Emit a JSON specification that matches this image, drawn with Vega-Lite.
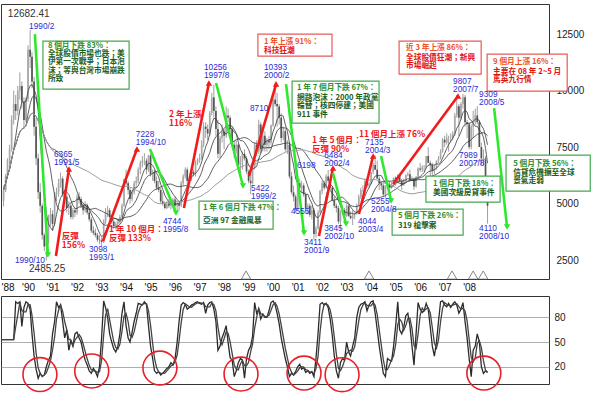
{
"$schema": "https://vega.github.io/schema/vega-lite/v6.json",
"padding": {"left": 0, "top": 3, "right": 0, "bottom": 0},
"spacing": 0,
"background": "white",
"config": {"view": {"stroke": "#333", "strokeWidth": 1}, "axis": {"labelFont": "Liberation Sans", "labelOverlap": false}, "axisX": {"labelOverlap": false, "labelSeparation": 0}},
"datasets": {
"px": [
{"d":"1989-01","o":5119,"h":5800,"l":4870,"c":5600},{"d":"1989-02","o":5600,"h":6300,"l":5500,"c":6200},{"d":"1989-03","o":6200,"h":7000,"l":6100,"c":6900},{"d":"1989-04","o":6900,"h":7600,"l":6700,"c":7400},{"d":"1989-05","o":7400,"h":8900,"l":7300,"c":8700},{"d":"1989-06","o":8700,"h":10000,"l":8500,"c":9400},{"d":"1989-07","o":9400,"h":9800,"l":8700,"c":9100},{"d":"1989-08","o":9100,"h":10200,"l":8900,"c":10000},{"d":"1989-09","o":10000,"h":10800,"l":9600,"c":10200},{"d":"1989-10","o":10200,"h":10400,"l":9200,"c":9500},{"d":"1989-11","o":9500,"h":9700,"l":8300,"c":8700},{"d":"1989-12","o":8700,"h":9700,"l":8600,"c":9624},
{"d":"1990-01","o":9624,"h":12000,"l":9500,"c":11800},{"d":"1990-02","o":11800,"h":12682,"l":11000,"c":11500},{"d":"1990-03","o":11500,"h":11700,"l":10100,"c":10400},{"d":"1990-04","o":10400,"h":10600,"l":8000,"c":8400},{"d":"1990-05","o":8400,"h":8800,"l":6700,"c":7000},{"d":"1990-06","o":7000,"h":7200,"l":5200,"c":5500},{"d":"1990-07","o":5500,"h":5900,"l":4600,"c":4900},{"d":"1990-08","o":4900,"h":5000,"l":3400,"c":3600},{"d":"1990-09","o":3600,"h":3700,"l":2900,"c":3100},{"d":"1990-10","o":3100,"h":3500,"l":2485,"c":3300},{"d":"1990-11","o":3300,"h":4500,"l":3200,"c":4200},{"d":"1990-12","o":4200,"h":4800,"l":4000,"c":4530},
{"d":"1991-01","o":4530,"h":4700,"l":3800,"c":4100},{"d":"1991-02","o":4100,"h":5500,"l":4000,"c":5400},{"d":"1991-03","o":5400,"h":5700,"l":5100,"c":5500},{"d":"1991-04","o":5500,"h":6100,"l":5300,"c":5900},{"d":"1991-05","o":5900,"h":6365,"l":5700,"c":6100},{"d":"1991-06","o":6100,"h":6200,"l":5300,"c":5400},{"d":"1991-07","o":5400,"h":5600,"l":5000,"c":5300},{"d":"1991-08","o":5300,"h":5400,"l":4600,"c":4800},{"d":"1991-09","o":4800,"h":5100,"l":4500,"c":4900},{"d":"1991-10","o":4900,"h":5000,"l":4300,"c":4400},{"d":"1991-11","o":4400,"h":4800,"l":4300,"c":4700},{"d":"1991-12","o":4700,"h":4800,"l":4400,"c":4600},
{"d":"1992-01","o":4600,"h":5400,"l":4500,"c":5300},{"d":"1992-02","o":5300,"h":5500,"l":5000,"c":5200},{"d":"1992-03","o":5200,"h":5300,"l":4800,"c":4900},{"d":"1992-04","o":4900,"h":5000,"l":4500,"c":4700},{"d":"1992-05","o":4700,"h":5100,"l":4600,"c":4900},{"d":"1992-06","o":4900,"h":5000,"l":4500,"c":4600},{"d":"1992-07","o":4600,"h":4700,"l":4200,"c":4300},{"d":"1992-08","o":4300,"h":4400,"l":3700,"c":3800},{"d":"1992-09","o":3800,"h":4000,"l":3600,"c":3700},{"d":"1992-10","o":3700,"h":3900,"l":3500,"c":3600},{"d":"1992-11","o":3600,"h":3700,"l":3300,"c":3400},{"d":"1992-12","o":3400,"h":3600,"l":3200,"c":3377},
{"d":"1993-01","o":3377,"h":3500,"l":3098,"c":3300},{"d":"1993-02","o":3300,"h":4300,"l":3250,"c":4200},{"d":"1993-03","o":4200,"h":4800,"l":4100,"c":4600},{"d":"1993-04","o":4600,"h":4900,"l":4400,"c":4700},{"d":"1993-05","o":4700,"h":4800,"l":4300,"c":4400},{"d":"1993-06","o":4400,"h":4500,"l":4100,"c":4200},{"d":"1993-07","o":4200,"h":4300,"l":3900,"c":4000},{"d":"1993-08","o":4000,"h":4200,"l":3850,"c":4100},{"d":"1993-09","o":4100,"h":4300,"l":3950,"c":4200},{"d":"1993-10","o":4200,"h":4500,"l":4100,"c":4400},{"d":"1993-11","o":4400,"h":5000,"l":4350,"c":4900},{"d":"1993-12","o":4900,"h":6100,"l":4850,"c":6070},
{"d":"1994-01","o":6070,"h":6500,"l":5800,"c":5900},{"d":"1994-02","o":5900,"h":6000,"l":5400,"c":5600},{"d":"1994-03","o":5600,"h":5700,"l":5000,"c":5200},{"d":"1994-04","o":5200,"h":5600,"l":5100,"c":5500},{"d":"1994-05","o":5500,"h":6000,"l":5400,"c":5900},{"d":"1994-06","o":5900,"h":6200,"l":5700,"c":6000},{"d":"1994-07","o":6000,"h":6600,"l":5900,"c":6500},{"d":"1994-08","o":6500,"h":6900,"l":6300,"c":6800},{"d":"1994-09","o":6800,"h":7100,"l":6600,"c":6900},{"d":"1994-10","o":6900,"h":7228,"l":6700,"c":6900},{"d":"1994-11","o":6900,"h":7000,"l":6300,"c":6500},{"d":"1994-12","o":6500,"h":7150,"l":6400,"c":7124},
{"d":"1995-01","o":7124,"h":7200,"l":6200,"c":6300},{"d":"1995-02","o":6300,"h":6500,"l":6000,"c":6400},{"d":"1995-03","o":6400,"h":6500,"l":5900,"c":6000},{"d":"1995-04","o":6000,"h":6200,"l":5600,"c":5700},{"d":"1995-05","o":5700,"h":6000,"l":5500,"c":5600},{"d":"1995-06","o":5600,"h":5700,"l":5000,"c":5100},{"d":"1995-07","o":5100,"h":5500,"l":4900,"c":5000},{"d":"1995-08","o":5000,"h":5100,"l":4744,"c":4800},{"d":"1995-09","o":4800,"h":5100,"l":4750,"c":5000},{"d":"1995-10","o":5000,"h":5200,"l":4800,"c":4900},{"d":"1995-11","o":4900,"h":5100,"l":4750,"c":5000},{"d":"1995-12","o":5000,"h":5250,"l":4900,"c":5174},
{"d":"1996-01","o":5174,"h":5300,"l":4700,"c":4900},{"d":"1996-02","o":4900,"h":5100,"l":4670,"c":5000},{"d":"1996-03","o":5000,"h":5100,"l":4700,"c":4900},{"d":"1996-04","o":4900,"h":6000,"l":4850,"c":5900},{"d":"1996-05","o":5900,"h":6300,"l":5800,"c":6200},{"d":"1996-06","o":6200,"h":6600,"l":6100,"c":6500},{"d":"1996-07","o":6500,"h":6600,"l":5800,"c":6000},{"d":"1996-08","o":6000,"h":6200,"l":5900,"c":6100},{"d":"1996-09","o":6100,"h":6500,"l":6000,"c":6400},{"d":"1996-10","o":6400,"h":6500,"l":6200,"c":6300},{"d":"1996-11","o":6300,"h":6900,"l":6200,"c":6800},{"d":"1996-12","o":6800,"h":7000,"l":6700,"c":6933},
{"d":"1997-01","o":6933,"h":7200,"l":6800,"c":7000},{"d":"1997-02","o":7000,"h":7800,"l":6950,"c":7600},{"d":"1997-03","o":7600,"h":8600,"l":7500,"c":8400},{"d":"1997-04","o":8400,"h":8600,"l":7900,"c":8300},{"d":"1997-05","o":8300,"h":8500,"l":7800,"c":8100},{"d":"1997-06","o":8100,"h":9100,"l":8000,"c":9000},{"d":"1997-07","o":9000,"h":9900,"l":8900,"c":9700},{"d":"1997-08","o":9700,"h":10256,"l":8800,"c":9100},{"d":"1997-09","o":9100,"h":9300,"l":8000,"c":8300},{"d":"1997-10","o":8300,"h":8700,"l":7000,"c":7200},{"d":"1997-11","o":7200,"h":8000,"l":7000,"c":7900},{"d":"1997-12","o":7900,"h":8500,"l":7700,"c":8187},
{"d":"1998-01","o":8187,"h":8300,"l":7400,"c":8000},{"d":"1998-02","o":8000,"h":9300,"l":7900,"c":8900},{"d":"1998-03","o":8900,"h":9200,"l":8600,"c":8800},{"d":"1998-04","o":8800,"h":8900,"l":8000,"c":8300},{"d":"1998-05","o":8300,"h":8400,"l":7500,"c":7600},{"d":"1998-06","o":7600,"h":7800,"l":7000,"c":7300},{"d":"1998-07","o":7300,"h":7800,"l":7200,"c":7600},{"d":"1998-08","o":7600,"h":7650,"l":6600,"c":6700},{"d":"1998-09","o":6700,"h":7100,"l":6200,"c":6900},{"d":"1998-10","o":6900,"h":7300,"l":6500,"c":7200},{"d":"1998-11","o":7200,"h":7400,"l":6900,"c":7000},{"d":"1998-12","o":7000,"h":7100,"l":6300,"c":6418},
{"d":"1999-01","o":6418,"h":6500,"l":5900,"c":6000},{"d":"1999-02","o":6000,"h":6300,"l":5422,"c":5900},{"d":"1999-03","o":5900,"h":6700,"l":5850,"c":6600},{"d":"1999-04","o":6600,"h":7700,"l":6500,"c":7600},{"d":"1999-05","o":7600,"h":7800,"l":7100,"c":7300},{"d":"1999-06","o":7300,"h":8710,"l":7200,"c":8500},{"d":"1999-07","o":8500,"h":8600,"l":7200,"c":7400},{"d":"1999-08","o":7400,"h":8300,"l":7300,"c":8000},{"d":"1999-09","o":8000,"h":8200,"l":7300,"c":7600},{"d":"1999-10","o":7600,"h":7900,"l":7300,"c":7800},{"d":"1999-11","o":7800,"h":8000,"l":7400,"c":7700},{"d":"1999-12","o":7700,"h":8500,"l":7600,"c":8448},
{"d":"2000-01","o":8448,"h":9800,"l":8400,"c":9600},{"d":"2000-02","o":9600,"h":10393,"l":9300,"c":9400},{"d":"2000-03","o":9400,"h":9900,"l":8400,"c":9300},{"d":"2000-04","o":9300,"h":9400,"l":8500,"c":8800},{"d":"2000-05","o":8800,"h":9000,"l":7700,"c":7900},{"d":"2000-06","o":7900,"h":8400,"l":7800,"c":8200},{"d":"2000-07","o":8200,"h":8300,"l":7300,"c":7400},{"d":"2000-08","o":7400,"h":7800,"l":7200,"c":7600},{"d":"2000-09","o":7600,"h":7700,"l":6100,"c":6200},{"d":"2000-10","o":6200,"h":6400,"l":5400,"c":5500},{"d":"2000-11","o":5500,"h":5800,"l":5100,"c":5300},{"d":"2000-12","o":5300,"h":5400,"l":4600,"c":4740},
{"d":"2001-01","o":4740,"h":6198,"l":4700,"c":5900},{"d":"2001-02","o":5900,"h":6100,"l":5500,"c":5700},{"d":"2001-03","o":5700,"h":6000,"l":5500,"c":5800},{"d":"2001-04","o":5800,"h":5900,"l":5300,"c":5400},{"d":"2001-05","o":5400,"h":5500,"l":4600,"c":4800},{"d":"2001-06","o":4800,"h":5000,"l":4555,"c":4900},{"d":"2001-07","o":4900,"h":5000,"l":4400,"c":4500},{"d":"2001-08","o":4500,"h":4900,"l":4300,"c":4700},{"d":"2001-09","o":4700,"h":4800,"l":3411,"c":3650},{"d":"2001-10","o":3650,"h":4000,"l":3500,"c":3900},{"d":"2001-11","o":3900,"h":4700,"l":3850,"c":4600},{"d":"2001-12","o":4600,"h":5600,"l":4550,"c":5551},
{"d":"2002-01","o":5551,"h":6000,"l":5400,"c":5900},{"d":"2002-02","o":5900,"h":6000,"l":5600,"c":5700},{"d":"2002-03","o":5700,"h":6300,"l":5650,"c":6200},{"d":"2002-04","o":6200,"h":6484,"l":5900,"c":6000},{"d":"2002-05","o":6000,"h":6100,"l":5600,"c":5700},{"d":"2002-06","o":5700,"h":5750,"l":5100,"c":5150},{"d":"2002-07","o":5150,"h":5300,"l":4800,"c":4900},{"d":"2002-08","o":4900,"h":5000,"l":4600,"c":4800},{"d":"2002-09","o":4800,"h":4900,"l":4100,"c":4200},{"d":"2002-10","o":4200,"h":4700,"l":3845,"c":4600},{"d":"2002-11","o":4600,"h":4900,"l":4500,"c":4700},{"d":"2002-12","o":4700,"h":4800,"l":4400,"c":4452},
{"d":"2003-01","o":4452,"h":5000,"l":4400,"c":4900},{"d":"2003-02","o":4900,"h":4950,"l":4400,"c":4450},{"d":"2003-03","o":4450,"h":4650,"l":4300,"c":4350},{"d":"2003-04","o":4350,"h":4700,"l":4044,"c":4500},{"d":"2003-05","o":4500,"h":4600,"l":4300,"c":4550},{"d":"2003-06","o":4550,"h":5000,"l":4500,"c":4900},{"d":"2003-07","o":4900,"h":5400,"l":4850,"c":5300},{"d":"2003-08","o":5300,"h":5700,"l":5200,"c":5600},{"d":"2003-09","o":5600,"h":5800,"l":5500,"c":5600},{"d":"2003-10","o":5600,"h":6100,"l":5550,"c":6000},{"d":"2003-11","o":6000,"h":6100,"l":5700,"c":5800},{"d":"2003-12","o":5800,"h":5950,"l":5700,"c":5890},
{"d":"2004-01","o":5890,"h":6400,"l":5850,"c":6400},{"d":"2004-02","o":6400,"h":6800,"l":6300,"c":6700},{"d":"2004-03","o":6700,"h":7135,"l":6500,"c":6500},{"d":"2004-04","o":6500,"h":6900,"l":6100,"c":6100},{"d":"2004-05","o":6100,"h":6200,"l":5600,"c":5900},{"d":"2004-06","o":5900,"h":6000,"l":5600,"c":5800},{"d":"2004-07","o":5800,"h":5900,"l":5300,"c":5400},{"d":"2004-08","o":5400,"h":5800,"l":5255,"c":5800},{"d":"2004-09","o":5800,"h":6000,"l":5700,"c":5850},{"d":"2004-10","o":5850,"h":6000,"l":5700,"c":5700},{"d":"2004-11","o":5700,"h":5950,"l":5650,"c":5850},{"d":"2004-12","o":5850,"h":6150,"l":5800,"c":6139},
{"d":"2005-01","o":6139,"h":6200,"l":5800,"c":5950},{"d":"2005-02","o":5950,"h":6300,"l":5900,"c":6250},{"d":"2005-03","o":6250,"h":6300,"l":5950,"c":6000},{"d":"2005-04","o":6000,"h":6100,"l":5600,"c":5800},{"d":"2005-05","o":5800,"h":6100,"l":5800,"c":6000},{"d":"2005-06","o":6000,"h":6300,"l":5950,"c":6250},{"d":"2005-07","o":6250,"h":6400,"l":6200,"c":6300},{"d":"2005-08","o":6300,"h":6500,"l":6000,"c":6050},{"d":"2005-09","o":6050,"h":6200,"l":6000,"c":6100},{"d":"2005-10","o":6100,"h":6150,"l":5600,"c":5750},{"d":"2005-11","o":5750,"h":6200,"l":5700,"c":6200},{"d":"2005-12","o":6200,"h":6600,"l":6150,"c":6548},
{"d":"2006-01","o":6548,"h":6800,"l":6400,"c":6500},{"d":"2006-02","o":6500,"h":6700,"l":6400,"c":6600},{"d":"2006-03","o":6600,"h":6700,"l":6400,"c":6600},{"d":"2006-04","o":6600,"h":7100,"l":6550,"c":7100},{"d":"2006-05","o":7100,"h":7500,"l":6800,"c":6800},{"d":"2006-06","o":6800,"h":6900,"l":6200,"c":6700},{"d":"2006-07","o":6700,"h":6800,"l":6250,"c":6450},{"d":"2006-08","o":6450,"h":6700,"l":6300,"c":6600},{"d":"2006-09","o":6600,"h":6900,"l":6500,"c":6900},{"d":"2006-10","o":6900,"h":7100,"l":6800,"c":7000},{"d":"2006-11","o":7000,"h":7400,"l":6950,"c":7300},{"d":"2006-12","o":7300,"h":7900,"l":7250,"c":7823},
{"d":"2007-01","o":7823,"h":8000,"l":7500,"c":7700},{"d":"2007-02","o":7700,"h":8100,"l":7600,"c":7900},{"d":"2007-03","o":7900,"h":8000,"l":7300,"c":7900},{"d":"2007-04","o":7900,"h":8100,"l":7700,"c":7900},{"d":"2007-05","o":7900,"h":8200,"l":7800,"c":8100},{"d":"2007-06","o":8100,"h":9000,"l":8000,"c":8900},{"d":"2007-07","o":8900,"h":9807,"l":8800,"c":9300},{"d":"2007-08","o":9300,"h":9400,"l":7989,"c":8800},{"d":"2007-09","o":8800,"h":9500,"l":8700,"c":9400},{"d":"2007-10","o":9400,"h":9850,"l":9200,"c":9700},{"d":"2007-11","o":9700,"h":9800,"l":8400,"c":8600},{"d":"2007-12","o":8600,"h":8700,"l":7900,"c":8506},
{"d":"2008-01","o":8506,"h":8600,"l":7400,"c":7500},{"d":"2008-02","o":7500,"h":8500,"l":7400,"c":8400},{"d":"2008-03","o":8400,"h":9100,"l":7900,"c":8600},{"d":"2008-04","o":8600,"h":9200,"l":8500,"c":8900},{"d":"2008-05","o":8900,"h":9309,"l":8500,"c":8600},{"d":"2008-06","o":8600,"h":8700,"l":7500,"c":7500},{"d":"2008-07","o":7500,"h":7700,"l":6700,"c":7000},{"d":"2008-08","o":7000,"h":7400,"l":6700,"c":7000},{"d":"2008-09","o":7000,"h":7100,"l":5500,"c":5700},{"d":"2008-10","o":5700,"h":5800,"l":4110,"c":4900}
],
"osc": [
{"d":"1988-11","k":53},{"d":"1988-12","k":53},
{"d":"1989-01","k":53},{"d":"1989-02","k":53},{"d":"1989-03","k":53},{"d":"1989-04","k":53},{"d":"1989-05","k":53},{"d":"1989-06","k":53},{"d":"1989-07","k":99},{"d":"1989-08","k":97},{"d":"1989-09","k":99},{"d":"1989-10","k":69},{"d":"1989-11","k":92},{"d":"1989-12","k":99},
{"d":"1990-01","k":97},{"d":"1990-02","k":90},{"d":"1990-03","k":60},{"d":"1990-04","k":33},{"d":"1990-05","k":17},{"d":"1990-06","k":6},{"d":"1990-07","k":12},{"d":"1990-08","k":8},{"d":"1990-09","k":10},{"d":"1990-10","k":20},{"d":"1990-11","k":28},{"d":"1990-12","k":33},
{"d":"1991-01","k":60},{"d":"1991-02","k":75},{"d":"1991-03","k":99},{"d":"1991-04","k":92},{"d":"1991-05","k":95},{"d":"1991-06","k":75},{"d":"1991-07","k":55},{"d":"1991-08","k":65},{"d":"1991-09","k":40},{"d":"1991-10","k":52},{"d":"1991-11","k":45},{"d":"1991-12","k":60},
{"d":"1992-01","k":62},{"d":"1992-02","k":55},{"d":"1992-03","k":50},{"d":"1992-04","k":38},{"d":"1992-05","k":28},{"d":"1992-06","k":22},{"d":"1992-07","k":15},{"d":"1992-08","k":12},{"d":"1992-09","k":18},{"d":"1992-10","k":14},{"d":"1992-11","k":8},{"d":"1992-12","k":20},
{"d":"1993-01","k":55},{"d":"1993-02","k":100},{"d":"1993-03","k":92},{"d":"1993-04","k":80},{"d":"1993-05","k":60},{"d":"1993-06","k":50},{"d":"1993-07","k":42},{"d":"1993-08","k":38},{"d":"1993-09","k":45},{"d":"1993-10","k":60},{"d":"1993-11","k":85},{"d":"1993-12","k":99},
{"d":"1994-01","k":70},{"d":"1994-02","k":55},{"d":"1994-03","k":50},{"d":"1994-04","k":62},{"d":"1994-05","k":75},{"d":"1994-06","k":85},{"d":"1994-07","k":97},{"d":"1994-08","k":96},{"d":"1994-09","k":95},{"d":"1994-10","k":99},{"d":"1994-11","k":96},{"d":"1994-12","k":70},
{"d":"1995-01","k":45},{"d":"1995-02","k":30},{"d":"1995-03","k":15},{"d":"1995-04","k":12},{"d":"1995-05","k":14},{"d":"1995-06","k":10},{"d":"1995-07","k":12},{"d":"1995-08","k":15},{"d":"1995-09","k":18},{"d":"1995-10","k":20},{"d":"1995-11","k":25},{"d":"1995-12","k":22},
{"d":"1996-01","k":30},{"d":"1996-02","k":50},{"d":"1996-03","k":75},{"d":"1996-04","k":95},{"d":"1996-05","k":98},{"d":"1996-06","k":96},{"d":"1996-07","k":90},{"d":"1996-08","k":92},{"d":"1996-09","k":95},{"d":"1996-10","k":96},{"d":"1996-11","k":98},{"d":"1996-12","k":99},
{"d":"1997-01","k":97},{"d":"1997-02","k":96},{"d":"1997-03","k":98},{"d":"1997-04","k":85},{"d":"1997-05","k":95},{"d":"1997-06","k":98},{"d":"1997-07","k":99},{"d":"1997-08","k":90},{"d":"1997-09","k":75},{"d":"1997-10","k":40},{"d":"1997-11","k":45},{"d":"1997-12","k":55},
{"d":"1998-01","k":62},{"d":"1998-02","k":70},{"d":"1998-03","k":50},{"d":"1998-04","k":31},{"d":"1998-05","k":28},{"d":"1998-06","k":8},{"d":"1998-07","k":15},{"d":"1998-08","k":25},{"d":"1998-09","k":30},{"d":"1998-10","k":28},{"d":"1998-11","k":6},{"d":"1998-12","k":30},
{"d":"1999-01","k":40},{"d":"1999-02","k":45},{"d":"1999-03","k":57},{"d":"1999-04","k":98},{"d":"1999-05","k":85},{"d":"1999-06","k":90},{"d":"1999-07","k":78},{"d":"1999-08","k":84},{"d":"1999-09","k":80},{"d":"1999-10","k":80},{"d":"1999-11","k":88},{"d":"1999-12","k":98},
{"d":"2000-01","k":100},{"d":"2000-02","k":95},{"d":"2000-03","k":85},{"d":"2000-04","k":72},{"d":"2000-05","k":55},{"d":"2000-06","k":42},{"d":"2000-07","k":30},{"d":"2000-08","k":20},{"d":"2000-09","k":8},{"d":"2000-10","k":12},{"d":"2000-11","k":10},{"d":"2000-12","k":14},
{"d":"2001-01","k":20},{"d":"2001-02","k":23},{"d":"2001-03","k":17},{"d":"2001-04","k":19},{"d":"2001-05","k":13},{"d":"2001-06","k":15},{"d":"2001-07","k":12},{"d":"2001-08","k":14},{"d":"2001-09","k":8},{"d":"2001-10","k":30},{"d":"2001-11","k":60},{"d":"2001-12","k":96},
{"d":"2002-01","k":98},{"d":"2002-02","k":95},{"d":"2002-03","k":97},{"d":"2002-04","k":92},{"d":"2002-05","k":78},{"d":"2002-06","k":58},{"d":"2002-07","k":33},{"d":"2002-08","k":15},{"d":"2002-09","k":6},{"d":"2002-10","k":25},{"d":"2002-11","k":30},{"d":"2002-12","k":28},
{"d":"2003-01","k":50},{"d":"2003-02","k":38},{"d":"2003-03","k":33},{"d":"2003-04","k":45},{"d":"2003-05","k":55},{"d":"2003-06","k":80},{"d":"2003-07","k":92},{"d":"2003-08","k":96},{"d":"2003-09","k":97},{"d":"2003-10","k":99},{"d":"2003-11","k":88},{"d":"2003-12","k":95},
{"d":"2004-01","k":99},{"d":"2004-02","k":100},{"d":"2004-03","k":85},{"d":"2004-04","k":65},{"d":"2004-05","k":45},{"d":"2004-06","k":28},{"d":"2004-07","k":12},{"d":"2004-08","k":8},{"d":"2004-09","k":30},{"d":"2004-10","k":28},{"d":"2004-11","k":27},{"d":"2004-12","k":45},
{"d":"2005-01","k":70},{"d":"2005-02","k":99},{"d":"2005-03","k":65},{"d":"2005-04","k":60},{"d":"2005-05","k":68},{"d":"2005-06","k":82},{"d":"2005-07","k":85},{"d":"2005-08","k":70},{"d":"2005-09","k":45},{"d":"2005-10","k":22},{"d":"2005-11","k":60},{"d":"2005-12","k":98},
{"d":"2006-01","k":90},{"d":"2006-02","k":86},{"d":"2006-03","k":88},{"d":"2006-04","k":97},{"d":"2006-05","k":90},{"d":"2006-06","k":68},{"d":"2006-07","k":45},{"d":"2006-08","k":33},{"d":"2006-09","k":50},{"d":"2006-10","k":75},{"d":"2006-11","k":99},{"d":"2006-12","k":100},
{"d":"2007-01","k":95},{"d":"2007-02","k":93},{"d":"2007-03","k":97},{"d":"2007-04","k":92},{"d":"2007-05","k":96},{"d":"2007-06","k":99},{"d":"2007-07","k":95},{"d":"2007-08","k":85},{"d":"2007-09","k":90},{"d":"2007-10","k":98},{"d":"2007-11","k":75},{"d":"2007-12","k":55},
{"d":"2008-01","k":30},{"d":"2008-02","k":8},{"d":"2008-03","k":40},{"d":"2008-04","k":45},{"d":"2008-05","k":60},{"d":"2008-06","k":50},{"d":"2008-07","k":20},{"d":"2008-08","k":12},{"d":"2008-09","k":15},{"d":"2008-10","k":13}
],
"arrows": [
{"d":"1990-04-13","v":12500,"d2":"1990-10-24","v2":2720,"dir":"down"},
{"d":"1991-02-21","v":2676,"d2":"1991-09-03","v2":6526,"dir":"up"},
{"d":"1993-01-22","v":3340,"d2":"1994-06-12","v2":7411,"dir":"up"},
{"d":"1994-12-23","v":7411,"d2":"1996-01-15","v2":4579,"dir":"down"},
{"d":"1996-05-12","v":4800,"d2":"1997-05-20","v2":10332,"dir":"up"},
{"d":"1997-09-03","v":10332,"d2":"1998-10-10","v2":5774,"dir":"down"},
{"d":"1999-01-07","v":6216,"d2":"2000-02-15","v2":10287,"dir":"up"},
{"d":"2000-07-12","v":10287,"d2":"2001-04-06","v2":3694,"dir":"down"},
{"d":"2001-11-15","v":3561,"d2":"2002-06-12","v2":6570,"dir":"up"},
{"d":"2002-06-12","v":6349,"d2":"2002-12-23","v2":4092,"dir":"down"},
{"d":"2003-07-04","v":4535,"d2":"2004-01-31","v2":7101,"dir":"up"},
{"d":"2004-05-28","v":7101,"d2":"2004-10-25","v2":5110,"dir":"down"},
{"d":"2004-11-24","v":5862,"d2":"2007-07-19","v2":9756,"dir":"up"},
{"d":"2009-01-07","v":9225,"d2":"2009-07-19","v2":3960,"dir":"down"}
],
"boxes": [
{"d":"1990-08-11","v":12190,"d2":"1994-02-15","v2":10066,"g":"green"},
{"d":"1999-05-20","v":12500,"d2":"2002-05-28","v2":11526,"g":"red"},
{"d":"2000-10-10","v":10420,"d2":"2004-04-28","v2":8561,"g":"green"},
{"d":"1996-12-23","v":5110,"d2":"2000-01-01","v2":3871,"g":"green"},
{"d":"2005-02-21","v":12190,"d2":"2008-06-28","v2":10730,"g":"red"},
{"d":"2008-09-25","v":11615,"d2":"2012-01-01","v2":9977,"g":"red"},
{"d":"2009-07-04","v":7145,"d2":"2012-12-10","v2":5552,"g":"green"},
{"d":"2006-03-28","v":6216,"d2":"2009-04-06","v2":5066,"g":"green"},
{"d":"2004-11-09","v":4756,"d2":"2007-10-03","v2":3605,"g":"green"}
],
"notes": [
{"d":"1989-03-06","v":13606,"t":"12682.41","k":"dark"},
{"d":"1990-01-16","v":2322,"t":"2485.25","k":"dark"},
{"d":"1990-01-16","v":13031,"t":"1990/2","k":"blue"},
{"d":"1991-01-23","v":7367,"t":"6365\n1991/5","k":"blue"},
{"d":"1989-06-19","v":2676,"t":"1990/10","k":"blue"},
{"d":"1992-06-27","v":3163,"t":"3098\n1993/1","k":"blue"},
{"d":"1994-05-27","v":8252,"t":"7228\n1994/10","k":"blue"},
{"d":"1995-07-04","v":4402,"t":"4744\n1995/8","k":"blue"},
{"d":"1997-03-06","v":11216,"t":"10256\n1997/8","k":"blue"},
{"d":"1999-08-18","v":11216,"t":"10393\n2000/2","k":"blue"},
{"d":"1999-01-22","v":9402,"t":"8710","k":"blue"},
{"d":"1999-02-06","v":5862,"t":"5422\n1999/2","k":"blue"},
{"d":"2000-12-23","v":6880,"t":"6198","k":"blue"},
{"d":"2000-09-24","v":4844,"t":"4555","k":"blue"},
{"d":"2001-04-06","v":3473,"t":"3411\n2001/9","k":"blue"},
{"d":"2002-02-01","v":7322,"t":"6484\n2002/4","k":"blue"},
{"d":"2002-02-01","v":4092,"t":"3845\n2002/10","k":"blue"},
{"d":"2003-06-19","v":4402,"t":"4044\n2003/4","k":"blue"},
{"d":"2003-10-03","v":7898,"t":"7135\n2004/3","k":"blue"},
{"d":"2004-01-01","v":5287,"t":"5255\n2004/8","k":"blue"},
{"d":"2007-05-06","v":10597,"t":"9807\n2007/7","k":"blue"},
{"d":"2008-05-28","v":10022,"t":"9309\n2008/5","k":"blue"},
{"d":"2007-08-04","v":7322,"t":"7989\n2007/8","k":"blue"},
{"d":"2008-05-28","v":4092,"t":"4110\n2008/10","k":"blue"},
{"d":"1991-05-20","v":3738,"t":"反彈\n156%","k":"red"},
{"d":"1993-04-20","v":4048,"t":"1 年 10 個月：\n反彈 133%","k":"red"},
{"d":"1995-10-02","v":9137,"t":"2 年上漲\n116%","k":"red"},
{"d":"2001-08-03","v":7986,"t":"1 年 5 個月：\n反彈 90%","k":"red"},
{"d":"2003-07-04","v":8252,"t":"11 個月上漲 76%","k":"red"},
{"d":"1990-10-24","v":12146,"t":"8 個月下跌 83%：","k":"gt"},
{"d":"1990-10-24","v":11792,"t":"全球股價市場也跌；美\n伊第一次戰爭；日本泡\n沫；等與台灣市場崩跌\n所致","k":"gb"},
{"d":"1999-08-18","v":12323,"t":"1 年上漲 91%：","k":"rt"},
{"d":"1999-08-18","v":11924,"t":"科技狂潮","k":"rb"},
{"d":"2000-12-23","v":10287,"t":"1 年 7 個月下跌 67%：","k":"gt"},
{"d":"2000-12-23","v":9845,"t":"網路泡沫：2000 年政黨\n輪替；核四停建；美國\n911 事件","k":"gb"},
{"d":"1997-02-21","v":4977,"t":"1 年 6 個月下跌 47%：","k":"gt"},
{"d":"1997-02-21","v":4402,"t":"亞洲 97 金融風暴","k":"gb"},
{"d":"2005-06-04","v":12057,"t":"近 3 年上漲 86%：","k":"rt"},
{"d":"2005-06-04","v":11615,"t":"全球股價狂潮；新興\n市場崛起","k":"rb"},
{"d":"2008-12-23","v":11438,"t":"9 個月上漲 16%：","k":"rt"},
{"d":"2008-12-23","v":10995,"t":"主要在 08 年 2~5 月\n馬英九行情","k":"rb"},
{"d":"2009-10-18","v":6924,"t":"5 個月下跌 56%：","k":"gt"},
{"d":"2009-10-18","v":6526,"t":"信貸危機擴至全球\n景氣走弱","k":"gb"},
{"d":"2006-07-12","v":6039,"t":"1 個月下跌 18%：","k":"gt"},
{"d":"2006-07-12","v":5641,"t":"美國次級房貸事件","k":"gb"},
{"d":"2005-02-06","v":4623,"t":"5 個月下跌 26%：","k":"gt"},
{"d":"2005-02-06","v":4181,"t":"319 槍擊案","k":"gb"}
],
"tri": [
{"d":"1998-11-24","v":1835},{"d":"2003-12-01","v":1835},{"d":"2007-04-21","v":1835},{"d":"2008-03-01","v":1835},{"d":"2008-07-28","v":1835}
],
"circles": [
{"d":"1990-06-27","k":10.5},{"d":"1992-08-07","k":14.8},{"d":"1995-05-20","k":18.4},{"d":"1998-09-10","k":11.1},{"d":"2001-04-06","k":12.3},{"d":"2002-10-25","k":10.3},{"d":"2008-08-07","k":12.3}
]
},
"vconcat": [
{
"width": 548,
"height": 275,
"encoding": {
"x": {"field": "d", "type": "temporal", "scale": {"domain": [{"year":1988,"month":11,"date":24},{"year":2011,"month":4,"date":5}], "nice": false},
"axis": {"values": [{"year":1989,"month":3,"date":1},{"year":1990,"month":1,"date":1},{"year":1991,"month":1,"date":1},{"year":1992,"month":1,"date":1},{"year":1993,"month":1,"date":1},{"year":1994,"month":1,"date":1},{"year":1995,"month":1,"date":1},{"year":1996,"month":1,"date":1},{"year":1997,"month":1,"date":1},{"year":1998,"month":1,"date":1},{"year":1999,"month":1,"date":1},{"year":2000,"month":1,"date":1},{"year":2001,"month":1,"date":1},{"year":2002,"month":1,"date":1},{"year":2003,"month":1,"date":1},{"year":2004,"month":1,"date":1},{"year":2005,"month":1,"date":1},{"year":2006,"month":1,"date":1},{"year":2007,"month":1,"date":1},{"year":2008,"month":1,"date":1}],
"labelExpr": "year(datum.value) == 1989 ? \"'88\" : \"'\" + timeFormat(datum.value, '%y')",
"title": null, "domain": false, "ticks": false, "grid": false, "labelPadding": 3, "labelFontSize": 10, "labelColor": "#111", "labelOverlap": false, "labelFlush": false, "labelBound": false, "minExtent": 15, "maxExtent": 15}}
},
"layer": [
{
"data": {"name": "px"},
"mark": {"type": "rule", "strokeWidth": 0.8},
"encoding": {
"y": {"field": "l", "type": "quantitative", "scale": {"domain": [1660, 13830], "nice": false, "zero": false},
"axis": {"orient": "right", "values": [2500, 5000, 7500, 10000, 12500], "format": "d", "title": null, "domain": false, "ticks": false, "grid": false, "labelPadding": 7, "labelFontSize": 10, "labelColor": "#222"}},
"y2": {"field": "h"},
"color": {"value": "#888"}
}
},
{
"data": {"name": "px"},
"mark": {"type": "rule", "strokeWidth": 1.7},
"encoding": {
"y": {"field": "o", "type": "quantitative"},
"y2": {"field": "c"},
"color": {"condition": {"test": "datum.c >= datum.o", "value": "#a8a8a8"}, "value": "#555555"}
}
},
{
"data": {"name": "px"},
"transform": [
{"window": [{"op": "mean", "field": "c", "as": "m6"}], "frame": [-5, 0], "sort": [{"field": "d"}]},
{"window": [{"op": "mean", "field": "c", "as": "m12"}], "frame": [-11, 0], "sort": [{"field": "d"}]},
{"window": [{"op": "mean", "field": "c", "as": "m24"}], "frame": [-23, 0], "sort": [{"field": "d"}]},
{"fold": ["m6", "m12", "m24"], "as": ["key", "val"]}
],
"mark": {"type": "line", "strokeWidth": 0.8, "color": "#3a3a3a"},
"encoding": {
"y": {"field": "val", "type": "quantitative"},
"detail": {"field": "key"}
}
},
{
"data": {"name": "px"},
"transform": [
{"window": [{"op": "mean", "field": "c", "as": "m60"}], "frame": [-59, 0], "sort": [{"field": "d"}]}
],
"mark": {"type": "line", "strokeWidth": 1, "color": "#9a9a9a"},
"encoding": {
"y": {"field": "m60", "type": "quantitative"}
}
},
{
"data": {"name": "arrows"},
"mark": {"type": "rule", "strokeWidth": 2.6},
"encoding": {
"y": {"field": "v", "type": "quantitative"},
"x2": {"field": "d2"},
"y2": {"field": "v2"},
"color": {"condition": {"test": "datum.dir === 'up'", "value": "#f21b1b"}, "value": "#2ee82e"}
}
},
{
"data": {"name": "arrows"},
"mark": {"type": "point", "filled": true, "size": 40, "opacity": 1},
"encoding": {
"x": {"field": "d2", "type": "temporal"},
"y": {"field": "v2", "type": "quantitative"},
"shape": {"condition": {"test": "datum.dir === 'up'", "value": "triangle-up"}, "value": "triangle-down"},
"color": {"condition": {"test": "datum.dir === 'up'", "value": "#f21b1b"}, "value": "#2ee82e"}
}
},
{
"data": {"name": "boxes"},
"mark": {"type": "rect", "fill": "white", "fillOpacity": 1, "strokeWidth": 1.2},
"encoding": {
"x2": {"field": "d2"},
"y": {"field": "v", "type": "quantitative"},
"y2": {"field": "v2"},
"stroke": {"condition": {"test": "datum.g === 'red'", "value": "#e85a5a"}, "value": "#45a84f"}
}
},
{
"data": {"name": "tri"},
"mark": {"type": "point", "shape": "triangle-up", "filled": false, "size": 90, "color": "#555", "strokeWidth": 1},
"encoding": {
"y": {"field": "v", "type": "quantitative"}
}
},
{
"data": {"name": "notes"},
"transform": [{"filter": "datum.k === 'blue'"}],
"mark": {"type": "text", "align": "left", "baseline": "top", "font": "Liberation Sans", "fontSize": 8.3, "lineHeight": 8.3, "lineBreak": "\n", "color": "#2a2ad8"},
"encoding": {
"y": {"field": "v", "type": "quantitative"},
"text": {"field": "t"}
}
},
{
"data": {"name": "notes"},
"transform": [{"filter": "datum.k === 'dark'"}],
"mark": {"type": "text", "align": "left", "baseline": "top", "font": "Liberation Sans", "fontSize": 10, "color": "#333"},
"encoding": {
"y": {"field": "v", "type": "quantitative"},
"text": {"field": "t"}
}
},
{
"data": {"name": "notes"},
"transform": [{"filter": "datum.k === 'red'"}],
"mark": {"type": "text", "align": "left", "baseline": "top", "font": "Noto Sans CJK TC", "fontWeight": "bold", "fontSize": 8.5, "lineHeight": 8.5, "lineBreak": "\n", "color": "#ee1b1b"},
"encoding": {
"y": {"field": "v", "type": "quantitative"},
"text": {"field": "t"}
}
},
{
"data": {"name": "notes"},
"transform": [{"filter": "datum.k === 'gt' || datum.k === 'rt'"}],
"mark": {"type": "text", "align": "left", "baseline": "top", "font": "Noto Sans CJK TC", "fontWeight": "bold", "fontSize": 7.7, "lineBreak": "\n"},
"encoding": {
"y": {"field": "v", "type": "quantitative"},
"text": {"field": "t"},
"color": {"condition": {"test": "datum.k === 'gt'", "value": "#2f8f2f"}, "value": "#f0501e"}
}
},
{
"data": {"name": "notes"},
"transform": [{"filter": "datum.k === 'gb' || datum.k === 'rb'"}],
"mark": {"type": "text", "align": "left", "baseline": "top", "font": "Noto Sans CJK TC", "fontWeight": "bold", "fontSize": 7.7, "lineHeight": 8.3, "lineBreak": "\n"},
"encoding": {
"y": {"field": "v", "type": "quantitative"},
"text": {"field": "t"},
"color": {"condition": {"test": "datum.k === 'gb'", "value": "#1a5e1a"}, "value": "#e31010"}
}
}
]
},
{
"width": 548,
"height": 88,
"layer": [
{
"data": {"name": "osc"},
"mark": {"type": "line", "strokeWidth": 1.3, "color": "#2b2b2b", "clip": true},
"encoding": {
"x": {"field": "d", "type": "temporal", "scale": {"domain": [{"year":1988,"month":11,"date":24},{"year":2011,"month":4,"date":5}], "nice": false}, "axis": null},
"y": {"field": "k", "type": "quantitative", "scale": {"domain": [-1, 106], "nice": false, "zero": false},
"axis": {"orient": "right", "values": [20, 50, 80], "title": null, "grid": true, "gridColor": "#999", "gridWidth": 0.8, "domain": false, "ticks": false, "labelPadding": 5, "labelFontSize": 10, "labelColor": "#222"}}
}
},
{
"data": {"name": "osc"},
"transform": [{"window": [{"op": "mean", "field": "k", "as": "kd"}], "frame": [-2, 0], "sort": [{"field": "d"}]}],
"mark": {"type": "line", "strokeWidth": 1.3, "color": "#444", "clip": true},
"encoding": {
"x": {"field": "d", "type": "temporal"},
"y": {"field": "kd", "type": "quantitative"}
}
},
{
"data": {"name": "circles"},
"mark": {"type": "point", "shape": "circle", "filled": false, "size": 1150, "color": "#e8202a", "strokeWidth": 1.6, "opacity": 1},
"encoding": {
"x": {"field": "d", "type": "temporal"},
"y": {"field": "k", "type": "quantitative"}
}
}
]
}
]
}
